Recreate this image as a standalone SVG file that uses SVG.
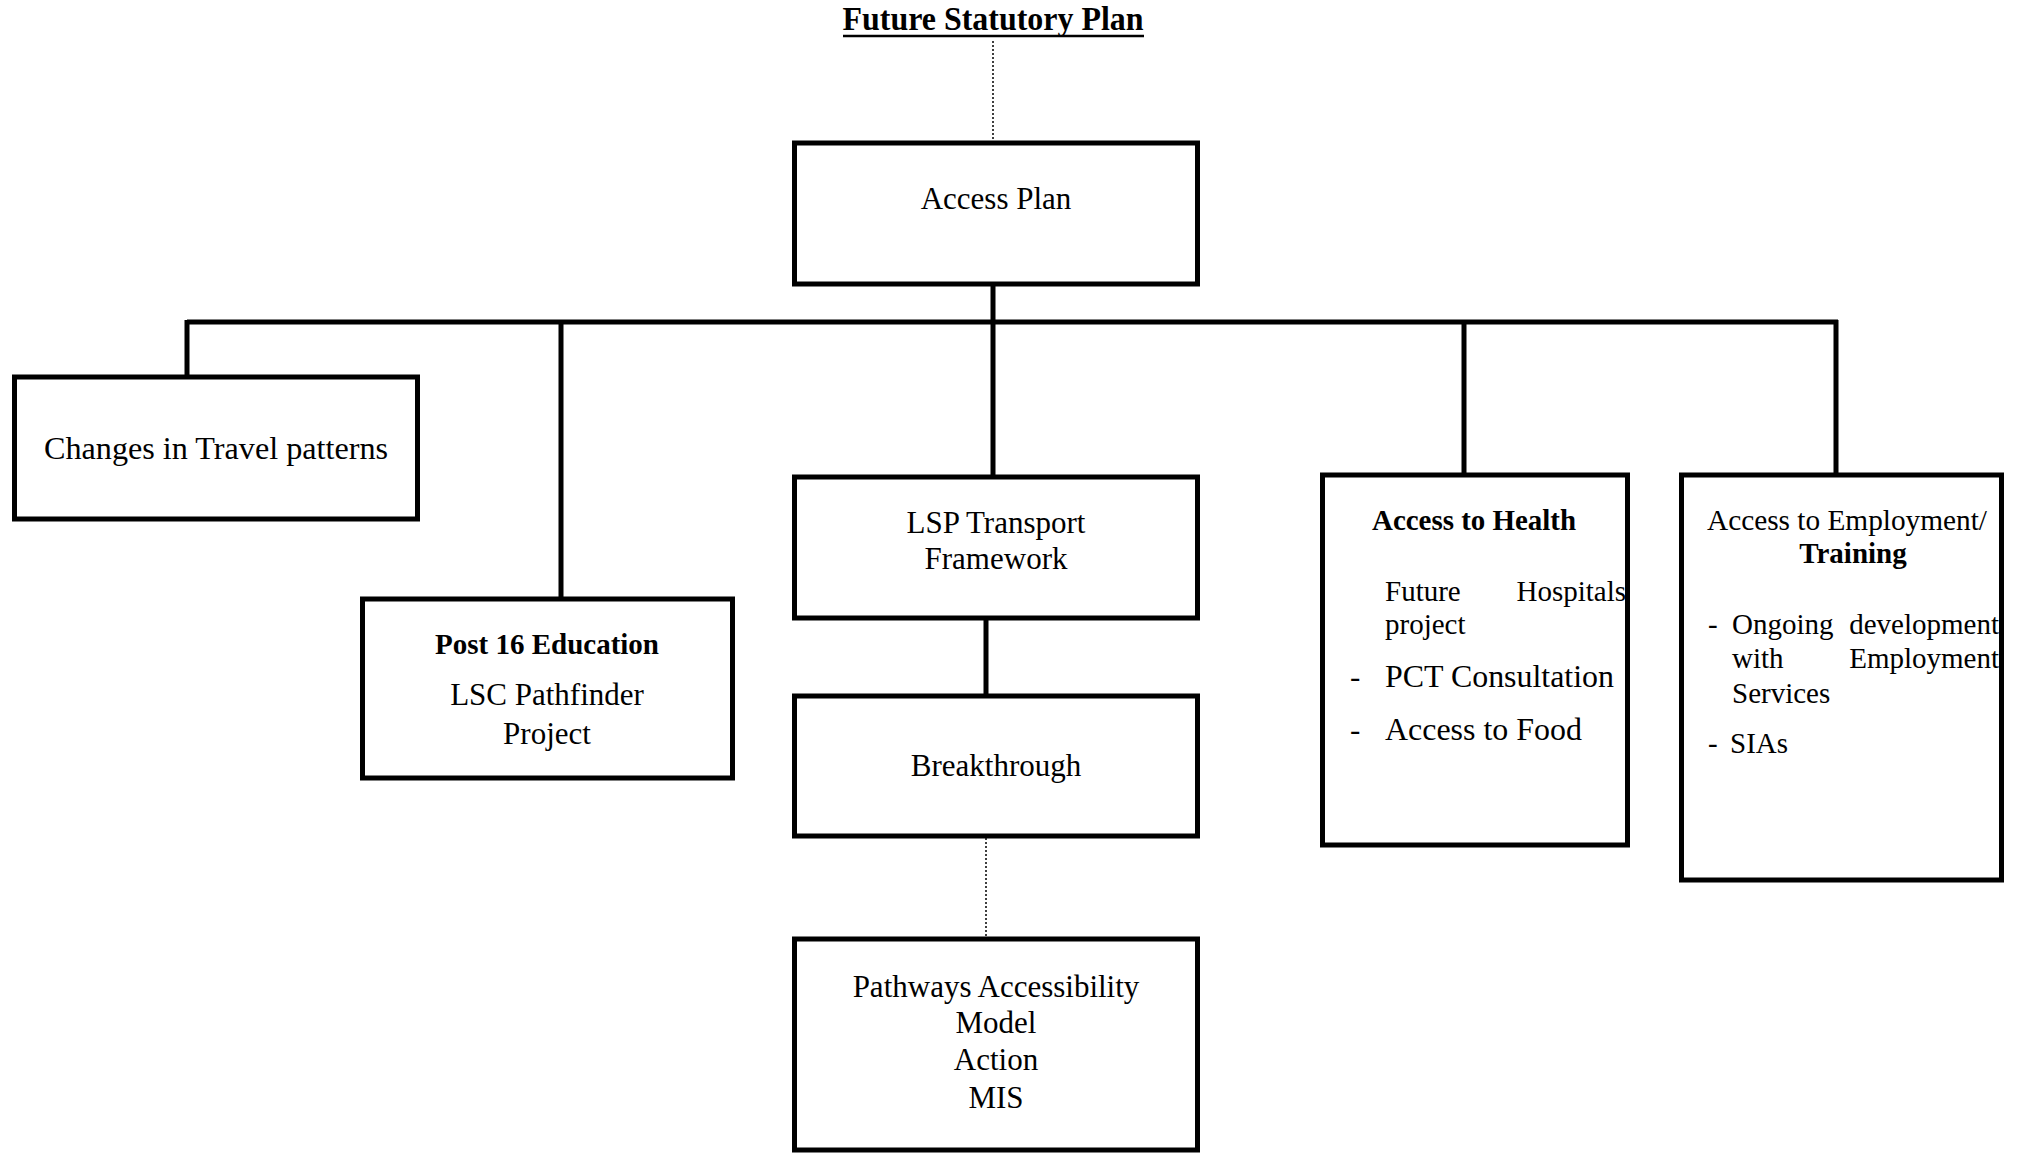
<svg xmlns="http://www.w3.org/2000/svg" width="2022" height="1155" viewBox="0 0 2022 1155">
<style>
text{font-family:"Liberation Serif","Times New Roman",serif;font-size:31px;fill:#000}
.b{font-weight:bold;font-size:29px}
.box{fill:#fff;stroke:#000;stroke-width:5}
.con{stroke:#000;stroke-width:5;fill:none}
.dot{stroke:#000;stroke-width:1.5;stroke-dasharray:2 2;fill:none}
.m{text-anchor:middle}
.s{font-size:29px}
</style>
<rect width="2022" height="1155" fill="#fff"/>
<g id="title">
<text class="b m" x="993" y="30" style="font-size:33px" textLength="301" lengthAdjust="spacingAndGlyphs">Future Statutory Plan</text>
<line x1="843" y1="36" x2="1144" y2="36" stroke="#000" stroke-width="2.5"/>
</g>
<g id="connectors">
<line class="dot" x1="993" y1="41" x2="993" y2="140"/>
<path class="con" d="M993 286V322M187 322H1838M187 320V375M561 320V597M993 320V475M1464 320V473M1836 320V473M986 620V694"/>
<line class="dot" x1="986" y1="838" x2="986" y2="937"/>
</g>
<g id="access-plan">
<rect class="box" x="794.5" y="143" width="403" height="141"/>
<text class="m" x="996" y="209">Access Plan</text>
</g>
<g id="changes">
<rect class="box" x="14.5" y="377" width="403" height="142"/>
<text class="m" x="216" y="459" textLength="344" lengthAdjust="spacingAndGlyphs">Changes in Travel patterns</text>
</g>
<g id="post16">
<rect class="box" x="362.5" y="599" width="370" height="179"/>
<text class="b m" x="547" y="654" textLength="224" lengthAdjust="spacingAndGlyphs">Post 16 Education</text>
<text class="m" x="547" y="705">LSC Pathfinder</text>
<text class="m" x="547" y="744">Project</text>
</g>
<g id="lsp">
<rect class="box" x="794.5" y="477" width="403" height="141"/>
<text class="m" x="996" y="533">LSP Transport</text>
<text class="m" x="996" y="569">Framework</text>
</g>
<g id="breakthrough">
<rect class="box" x="794.5" y="696" width="403" height="140"/>
<text class="m" x="996" y="776">Breakthrough</text>
</g>
<g id="pathways">
<rect class="box" x="794.5" y="939" width="403" height="211"/>
<text class="m" x="996" y="997">Pathways Accessibility</text>
<text class="m" x="996" y="1033">Model</text>
<text class="m" x="996" y="1070">Action</text>
<text class="m" x="996" y="1108">MIS</text>
</g>
<g id="health">
<rect class="box" x="1322.5" y="475" width="305" height="370"/>
<text class="b m" x="1474" y="530" textLength="204" lengthAdjust="spacingAndGlyphs">Access to Health</text>
<text class="s" x="1385" y="601">Future</text>
<text class="s" x="1626" y="601" text-anchor="end">Hospitals</text>
<text class="s" x="1385" y="634">project</text>
<text x="1350" y="687">-</text>
<text x="1385" y="687" textLength="229" lengthAdjust="spacingAndGlyphs">PCT Consultation</text>
<text x="1350" y="740">-</text>
<text x="1385" y="740" textLength="197" lengthAdjust="spacingAndGlyphs">Access to Food</text>
</g>
<g id="employment">
<rect class="box" x="1681.5" y="475" width="320" height="405"/>
<text class="s" x="1707" y="530" textLength="280" lengthAdjust="spacingAndGlyphs">Access to Employment/</text>
<text class="b m" x="1853" y="563">Training</text>
<text class="s" x="1708" y="634">-</text>
<text class="s" x="1732" y="634">Ongoing</text>
<text class="s" x="1999" y="634" text-anchor="end">development</text>
<text class="s" x="1732" y="668">with</text>
<text class="s" x="1999" y="668" text-anchor="end">Employment</text>
<text class="s" x="1732" y="703">Services</text>
<text class="s" x="1708" y="753">-</text>
<text class="s" x="1730" y="753">SIAs</text>
</g>
</svg>
